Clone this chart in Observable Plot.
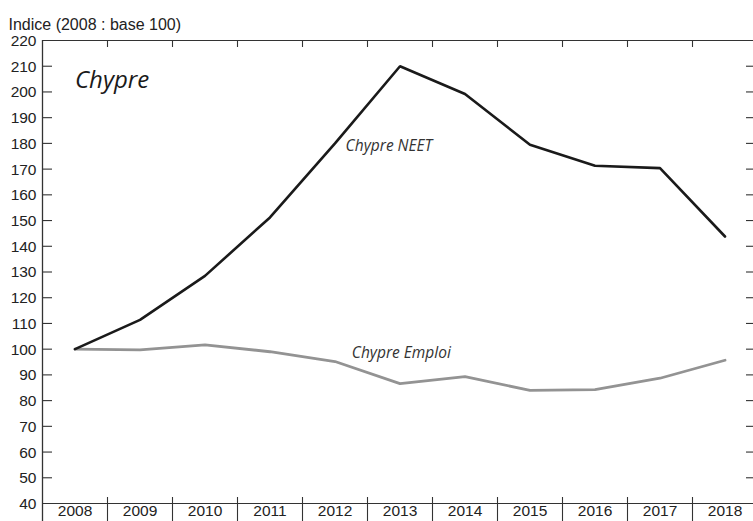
<!DOCTYPE html>
<html>
<head>
<meta charset="utf-8">
<script src="https://cdn.jsdelivr.net/npm/d3@7"></script>
<script src="https://cdn.jsdelivr.net/npm/@observablehq/plot@0.6"></script>
<style>
html, body { margin: 0; padding: 0; background: #fff; overflow: hidden; }
#chart { width: 753px; height: 521px; overflow: hidden; }
</style>
</head>
<body>
<div id="chart"></div>
<script>
// ---- data ----
const years = [2008, 2009, 2010, 2011, 2012, 2013, 2014, 2015, 2016, 2017, 2018];
const neet = [100, 111.4, 128.5, 151.2, 180, 210, 199.2, 179.5, 171.3, 170.4, 143.8];
const emploi = [100, 99.7, 101.7, 99, 95.2, 86.6, 89.3, 84, 84.3, 88.7, 95.7];
const yTickLabels = [40, 50, 60, 70, 80, 90, 100, 110, 120, 130, 140, 150, 160, 170, 180, 190, 200, 210, 220];
const innerTicks = [50, 60, 70, 80, 90, 100, 110, 120, 130, 140, 150, 160, 170, 180, 190, 200, 210];
const yAxisTitle = "Indice (2008 : base 100)";
const countryName = "Chypre";
const seriesLabels = [
  {text: "Chypre NEET", year: 2012.83, value: 178.8},
  {text: "Chypre Emploi", year: 2013.02, value: 98.6}
];
const countryLabelPos = [{text: countryName, year: 2008.0, value: 204.6}];

// ---- derived tables ----
const neetRows = years.map((y, i) => ({year: y, value: neet[i]}));
const emploiRows = years.map((y, i) => ({year: y, value: emploi[i]}));
const boundaries = years.slice(1).map(y => y - 0.5);
const domainX = [years[0] - 0.5, years[years.length - 1] + 0.5];
const domainY = [yTickLabels[0], yTickLabels[yTickLabels.length - 1]];

const axisFont = "'Liberation Sans', Arial, Helvetica, sans-serif";
const labelFont = "'Open Sans', 'Noto Sans', sans-serif";
const frameColor = "#333";

const W = 753, H = 521, mL = 42, mT = 40, mB = 18;
const frameW = W - mL, frameH = H - mT - mB;

const chart = Plot.plot({
  width: W,
  height: H,
  marginLeft: mL,
  marginRight: 0,
  marginTop: mT,
  marginBottom: mB,
  x: {domain: domainX, range: [mL, 757], axis: null},
  y: {domain: domainY, range: [H - mB, mT], axis: null},
  style: {fontFamily: axisFont, fontSize: "15.5px", color: "#222", background: "#fff"},
  marks: [
    // frame lines
    Plot.ruleY([domainY[1]], {stroke: frameColor, strokeWidth: 1.1}),
    Plot.ruleY([domainY[0]], {stroke: frameColor, strokeWidth: 1.1}),
    Plot.ruleX([domainX[0]], {stroke: frameColor, strokeWidth: 1.3, insetBottom: -18}),
    // y ticks, left (inward) and right (inward)
    Plot.ruleY(innerTicks, {y: d => d, stroke: frameColor, strokeWidth: 1.1, insetRight: frameW - 10}),
    Plot.ruleY(innerTicks, {y: d => d, stroke: frameColor, strokeWidth: 1.1, insetLeft: frameW - 7}),
    // x boundary ticks, top and bottom
    Plot.ruleX(boundaries, {x: d => d, stroke: frameColor, strokeWidth: 1.1, insetBottom: frameH - 7}),
    Plot.ruleX(boundaries, {x: d => d, stroke: frameColor, strokeWidth: 1.1, insetTop: frameH - 6, insetBottom: -18}),
    // tick labels
    Plot.text(yTickLabels, {y: d => d, text: d => String(d), frameAnchor: "left", dx: -6, dy: 0.5, textAnchor: "end", fill: "#222", fontSize: 15.5}),
    Plot.text(years, {x: d => d, text: d => String(d), frameAnchor: "bottom", dy: 12, fill: "#222", fontSize: 15.5}),
    Plot.text([yAxisTitle], {text: d => d, frameAnchor: "top-left", textAnchor: "start", dx: -34, dy: -22, fill: "#222", fontSize: 16}),
    // series
    Plot.line(emploiRows, {x: "year", y: "value", stroke: "#939393", strokeWidth: 2.8, strokeLinejoin: "miter"}),
    Plot.line(neetRows, {x: "year", y: "value", stroke: "#1a1a1a", strokeWidth: 2.6, strokeLinejoin: "miter"}),
    // labels
    Plot.text(seriesLabels, {x: "year", y: "value", text: "text", fontFamily: labelFont, fontStyle: "italic", fontSize: 15.5, fill: "#333"}),
    Plot.text(countryLabelPos, {x: "year", y: "value", text: "text", textAnchor: "start", fontFamily: labelFont, fontStyle: "italic", fontSize: 24, fill: "#1a1a1a"})
  ]
});
document.getElementById("chart").appendChild(chart);
</script>
</body>
</html>
